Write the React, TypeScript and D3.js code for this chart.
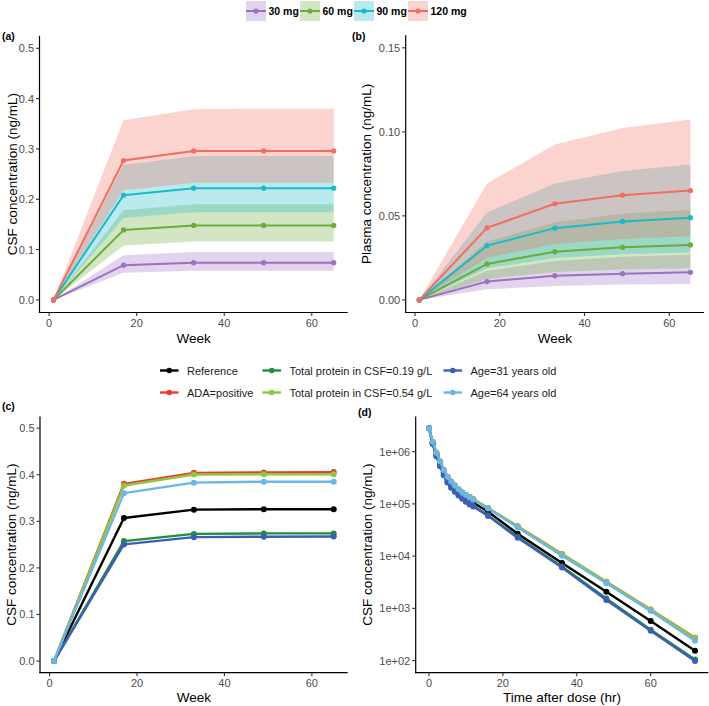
import React from "react";
import * as d3 from "d3";

// ---------- Data ----------
const WEEKS = [1, 17, 33, 49, 65];
const DOSE_LABELS = ["30 mg", "60 mg", "90 mg", "120 mg"];
const DOSE_COLORS = ["#9d70c0", "#6dab3a", "#1bbac8", "#f36e60"];

// Panel (a): CSF concentration (ng/mL), median and 90% band per dose
const CSF_MED = [
  [0, 0.069, 0.074, 0.074, 0.074],
  [0, 0.139, 0.148, 0.148, 0.148],
  [0, 0.208, 0.222, 0.222, 0.222],
  [0, 0.277, 0.296, 0.296, 0.296],
];
const CSF_LO = [
  [0, 0.054, 0.058, 0.058, 0.058],
  [0, 0.108, 0.116, 0.116, 0.116],
  [0, 0.163, 0.174, 0.174, 0.174],
  [0, 0.218, 0.233, 0.233, 0.233],
];
const CSF_HI = [
  [0, 0.089, 0.095, 0.095, 0.095],
  [0, 0.178, 0.19, 0.19, 0.19],
  [0, 0.268, 0.286, 0.286, 0.286],
  [0, 0.357, 0.379, 0.38, 0.38],
];

// Panel (b): plasma concentration (ng/mL)
const PL_MED = [
  [0, 0.0109, 0.0144, 0.0156, 0.0164],
  [0, 0.0214, 0.0287, 0.0313, 0.0327],
  [0, 0.0323, 0.0427, 0.0467, 0.0489],
  [0, 0.0429, 0.0572, 0.0623, 0.0651],
];
const PL_LO = [
  [0, 0.0063, 0.0083, 0.0091, 0.0095],
  [0, 0.0125, 0.0166, 0.0181, 0.0189],
  [0, 0.0188, 0.0249, 0.0271, 0.0284],
  [0, 0.025, 0.0332, 0.0362, 0.0378],
];
const PL_HI = [
  [0, 0.0173, 0.0231, 0.0256, 0.0268],
  [0, 0.0347, 0.0462, 0.0512, 0.0537],
  [0, 0.052, 0.0693, 0.0767, 0.0805],
  [0, 0.0693, 0.0924, 0.1023, 0.1073],
];

// Panels (c) and (d): covariate scenarios
const COV_LABELS = [
  "Reference",
  "ADA=positive",
  "Total protein in CSF=0.19 g/L",
  "Total protein in CSF=0.54 g/L",
  "Age=31 years old",
  "Age=64 years old",
];
const COV_COLORS = ["#000000", "#ee3a30", "#1f8f3d", "#8dc63f", "#3d5db6", "#6cb6e6"];

const COV_CSF = [
  [0, 0.307, 0.325, 0.326, 0.326],
  [0, 0.3805, 0.404, 0.405, 0.4056],
  [0, 0.2575, 0.273, 0.274, 0.274],
  [0, 0.377, 0.4006, 0.401, 0.401],
  [0, 0.2504, 0.266, 0.267, 0.2675],
  [0, 0.3605, 0.383, 0.385, 0.385],
];

const HOURS = [0, 1, 2, 3, 4, 5, 6, 7, 8, 9, 10, 11, 12, 16, 24, 36, 48, 60, 72];
const COV_PK = [
  [2.82e6, 1.48e6, 8.91e5, 5.89e5, 3.98e5, 2.95e5, 2.34e5, 1.95e5, 1.66e5, 1.45e5, 1.26e5, 1.15e5, 1.05e5, 7.08e4, 2.69e4, 7410, 2090, 575, 155],
  [2.82e6, 1.55e6, 9.55e5, 6.46e5, 4.47e5, 3.31e5, 2.69e5, 2.24e5, 1.91e5, 1.66e5, 1.48e5, 1.35e5, 1.23e5, 8.32e4, 3.72e4, 1.1e4, 3240, 955, 275],
  [2.82e6, 1.41e6, 8.32e5, 5.37e5, 3.63e5, 2.63e5, 2.09e5, 1.74e5, 1.48e5, 1.29e5, 1.12e5, 1.0e5, 9.12e4, 6.03e4, 2.34e4, 6310, 1550, 389, 105],
  [2.82e6, 1.55e6, 9.55e5, 6.46e5, 4.47e5, 3.31e5, 2.69e5, 2.24e5, 1.91e5, 1.66e5, 1.48e5, 1.35e5, 1.23e5, 8.32e4, 3.72e4, 1.1e4, 3240, 940, 270],
  [2.82e6, 1.41e6, 8.13e5, 5.25e5, 3.55e5, 2.57e5, 2.04e5, 1.7e5, 1.45e5, 1.26e5, 1.1e5, 9.77e4, 8.91e4, 5.89e4, 2.24e4, 6030, 1450, 372, 98],
  [2.82e6, 1.55e6, 9.55e5, 6.46e5, 4.47e5, 3.31e5, 2.69e5, 2.24e5, 1.91e5, 1.66e5, 1.48e5, 1.32e5, 1.2e5, 8.13e4, 3.55e4, 1.02e4, 3020, 891, 240],
];

const WEEK_TICKS = [0, 20, 40, 60];
const HOUR_TICKS = [0, 20, 40, 60];
const CSF_TICKS = [0, 0.1, 0.2, 0.3, 0.4, 0.5];
const PL_TICKS = [0, 0.05, 0.1, 0.15];
const PK_TICKS = [1e2, 1e3, 1e4, 1e5, 1e6];
const PK_TICK_LABELS = ["1e+02", "1e+03", "1e+04", "1e+05", "1e+06"];

// ---------- Helpers ----------
const FONT = "'Liberation Sans', Arial, Helvetica, sans-serif";
const TICK_COLOR = "#4d4d4d";

function expand(lo: number, hi: number, m = 0.05): [number, number] {
  const r = hi - lo;
  return [lo - r * m, hi + r * m];
}

type AxesProps = {
  x: any;
  y: any;
  xTicks: number[];
  yTicks: number[];
  yLabels: string[];
  xLabels: string[];
  xTitle: string;
  yTitle: string;
  yTitleX: number;
  xTitleY: number;
};

function Axes({ x, y, xTicks, yTicks, yLabels, xLabels, xTitle, yTitle, yTitleX, xTitleY }: AxesProps) {
  const [x0, x1] = x.range();
  const [yb, yt] = y.range();
  const cx = (x0 + x1) / 2;
  const cy = (yb + yt) / 2;
  return (
    <g>
      <line x1={x0} x2={x0} y1={yt} y2={yb + 0.6} stroke="#000" strokeWidth={1.2} />
      <line x1={x0 - 0.6} x2={x1} y1={yb} y2={yb} stroke="#000" strokeWidth={1.2} />
      {yTicks.map((t, i) => (
        <g key={"yt" + i}>
          <line x1={x0 - 3.5} x2={x0} y1={y(t)} y2={y(t)} stroke="#333" strokeWidth={1.1} />
          <text x={x0 - 5.5} y={y(t)} dy="0.36em" textAnchor="end" fontSize={11} fill={TICK_COLOR} fontFamily={FONT}>
            {yLabels[i]}
          </text>
        </g>
      ))}
      {xTicks.map((t, i) => (
        <g key={"xt" + i}>
          <line x1={x(t)} x2={x(t)} y1={yb} y2={yb + 3.5} stroke="#333" strokeWidth={1.1} />
          <text x={x(t)} y={yb + 14.5} textAnchor="middle" fontSize={11} fill={TICK_COLOR} fontFamily={FONT}>
            {xLabels[i]}
          </text>
        </g>
      ))}
      <text x={cx} y={xTitleY} textAnchor="middle" fontSize={13.5} fill="#000" fontFamily={FONT}>
        {xTitle}
      </text>
      <text
        transform={`translate(${yTitleX},${cy}) rotate(-90)`}
        textAnchor="middle"
        dy="0.35em"
        fontSize={13.5}
        fill="#000"
        fontFamily={FONT}
      >
        {yTitle}
      </text>
    </g>
  );
}

function BandPanel({ x, y, med, lo, hi, pointR = 2.6 }: any) {
  const area = d3
    .area<number>()
    .x((_, i) => x(WEEKS[i]))
    .y0((_, i) => y(lo[i]))
    .y1((d) => y(d));
  return (
    <g>
      {hi.map((h: number[], k: number) => (
        <path key={"band" + k} d={area.y0((_, i) => y(lo[k][i]))(h) || ""} fill={DOSE_COLORS[k]} fillOpacity={0.3} stroke="none" />
      ))}
      {med.map((m: number[], k: number) => {
        const line = d3
          .line<number>()
          .x((_, i) => x(WEEKS[i]))
          .y((d) => y(d));
        return (
          <g key={"med" + k}>
            <path d={line(m) || ""} fill="none" stroke={DOSE_COLORS[k]} strokeWidth={2} />
            {m.map((v, i) => (
              <circle key={i} cx={x(WEEKS[i])} cy={y(v)} r={pointR} fill={DOSE_COLORS[k]} />
            ))}
          </g>
        );
      })}
    </g>
  );
}

function CovLines({ x, y, xs, series, lw, r }: any) {
  const line = d3
    .line<number>()
    .x((_, i) => x(xs[i]))
    .y((d) => y(d));
  return (
    <g>
      {series.map((s: number[], k: number) => (
        <g key={"cov" + k}>
          <path d={line(s) || ""} fill="none" stroke={COV_COLORS[k]} strokeWidth={lw} strokeLinejoin="round" />
          {s.map((v, i) => (
            <circle key={i} cx={x(xs[i])} cy={y(v)} r={r} fill={COV_COLORS[k]} />
          ))}
        </g>
      ))}
    </g>
  );
}

export default function App() {
  const weekDom = expand(d3.min(WEEKS)!, d3.max(WEEKS)!);
  const hourDom = expand(d3.min(HOURS)!, d3.max(HOURS)!);

  const xA = d3.scaleLinear().domain(weekDom).range([39.5, 347.7]);
  const yA = d3.scaleLinear().domain(expand(0, 0.5)).range([312.5, 35.7]);
  const xB = d3.scaleLinear().domain(weekDom).range([405.7, 704]);
  const yB = d3.scaleLinear().domain(expand(0, 0.15)).range([312.5, 35.2]);
  const xC = d3.scaleLinear().domain(weekDom).range([40, 347.7]);
  const yC = d3.scaleLinear().domain(expand(0, 0.5)).range([672.7, 416.5]);
  const xD = d3.scaleLinear().domain(hourDom).range([415.7, 708.3]);
  const allPK = COV_PK.flat();
  const [lmin, lmax] = expand(Math.log10(d3.min(allPK)!), Math.log10(d3.max(allPK)!));
  const yD = d3.scaleLog().domain([Math.pow(10, lmin), Math.pow(10, lmax)]).range([672.7, 416.5]);

  const topLegendX = [246, 300, 354, 408];
  const covLegendCols = [160, 262.5, 443.5];
  const covLegendRows = [370.5, 392.5];

  return (
    <svg width={709} height={706} style={{ position: "absolute", left: 0, top: 0 }} fontFamily={FONT}>
      <rect width={709} height={706} fill="#fff" />

      {/* Top legend */}
      {DOSE_LABELS.map((lab, k) => (
        <g key={"tl" + k}>
          <rect x={topLegendX[k]} y={1} width={20} height={20} fill={DOSE_COLORS[k]} fillOpacity={0.3} />
          <line x1={topLegendX[k]} x2={topLegendX[k] + 20} y1={11} y2={11} stroke={DOSE_COLORS[k]} strokeWidth={2} />
          <circle cx={topLegendX[k] + 10} cy={11} r={2.6} fill={DOSE_COLORS[k]} />
          <text x={topLegendX[k] + 22.5} y={15} fontSize={10.5} fontWeight="bold" fill="#000">
            {lab}
          </text>
        </g>
      ))}

      {/* Panel a */}
      <BandPanel x={xA} y={yA} med={CSF_MED} lo={CSF_LO} hi={CSF_HI} />
      <Axes
        x={xA}
        y={yA}
        xTicks={WEEK_TICKS}
        xLabels={WEEK_TICKS.map(String)}
        yTicks={CSF_TICKS}
        yLabels={CSF_TICKS.map((v) => v.toFixed(1))}
        xTitle="Week"
        yTitle="CSF concentration (ng/mL)"
        yTitleX={12}
        xTitleY={343}
      />
      <text x={2} y={40} fontSize={10.5} fontWeight="bold">(a)</text>

      {/* Panel b */}
      <BandPanel x={xB} y={yB} med={PL_MED} lo={PL_LO} hi={PL_HI} />
      <Axes
        x={xB}
        y={yB}
        xTicks={WEEK_TICKS}
        xLabels={WEEK_TICKS.map(String)}
        yTicks={PL_TICKS}
        yLabels={PL_TICKS.map((v) => v.toFixed(2))}
        xTitle="Week"
        yTitle="Plasma concentration (ng/mL)"
        yTitleX={366}
        xTitleY={343}
      />
      <text x={352} y={40} fontSize={10.5} fontWeight="bold">(b)</text>

      {/* Covariate legend */}
      {COV_LABELS.map((lab, k) => {
        const col = Math.floor(k / 2);
        const row = k % 2;
        const kx = covLegendCols[col];
        const ky = covLegendRows[row];
        return (
          <g key={"cl" + k}>
            <line x1={kx} x2={kx + 18.5} y1={ky} y2={ky} stroke={COV_COLORS[k]} strokeWidth={2.4} />
            <circle cx={kx + 9.25} cy={ky} r={2.8} fill={COV_COLORS[k]} />
            <text x={kx + 27} y={ky + 4} fontSize={11} fill="#1a1a1a">
              {lab}
            </text>
          </g>
        );
      })}

      {/* Panel c */}
      <CovLines x={xC} y={yC} xs={WEEKS} series={COV_CSF} lw={2.4} r={3} />
      <Axes
        x={xC}
        y={yC}
        xTicks={WEEK_TICKS}
        xLabels={WEEK_TICKS.map(String)}
        yTicks={CSF_TICKS}
        yLabels={CSF_TICKS.map((v) => v.toFixed(1))}
        xTitle="Week"
        yTitle="CSF concentration (ng/mL)"
        yTitleX={11}
        xTitleY={702}
      />
      <text x={2} y={410} fontSize={10.5} fontWeight="bold">(c)</text>

      {/* Panel d */}
      <CovLines x={xD} y={yD} xs={HOURS} series={COV_PK} lw={2.4} r={3} />
      <Axes
        x={xD}
        y={yD}
        xTicks={HOUR_TICKS}
        xLabels={HOUR_TICKS.map(String)}
        yTicks={PK_TICKS}
        yLabels={PK_TICK_LABELS}
        xTitle="Time after dose (hr)"
        yTitle="CSF concentration (ng/mL)"
        yTitleX={367}
        xTitleY={702}
      />
      <text x={358} y={416} fontSize={10.5} fontWeight="bold">(d)</text>
    </svg>
  );
}
